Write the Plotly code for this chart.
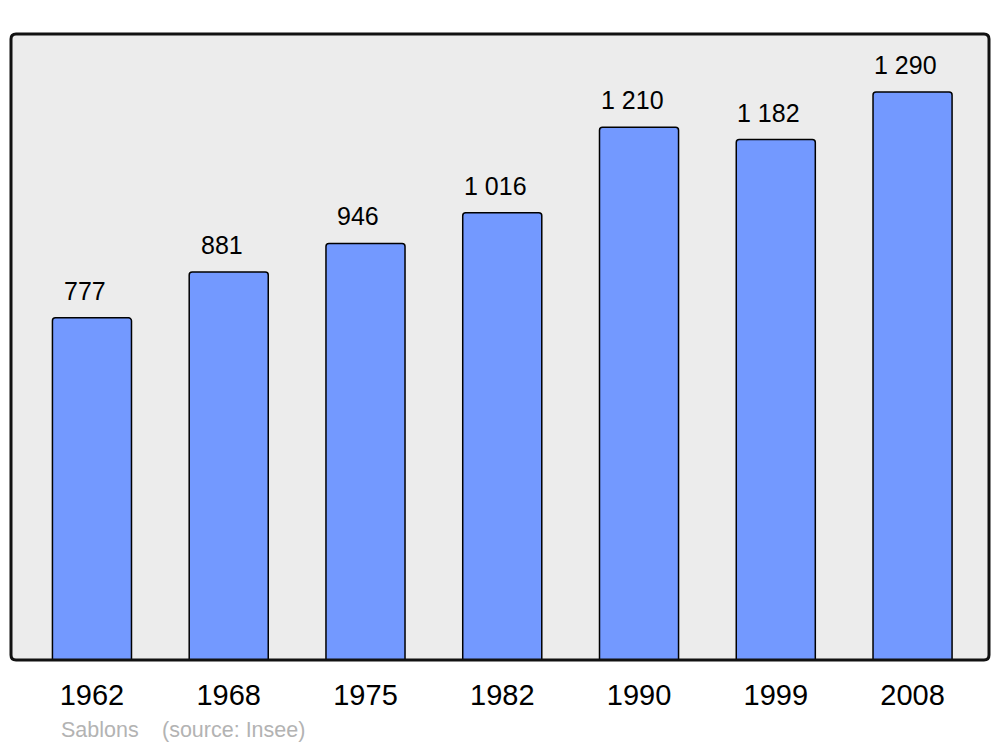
import plotly.graph_objects as go

years = ["1962", "1968", "1975", "1982", "1990", "1999", "2008"]
population = [777, 881, 946, 1016, 1210, 1182, 1290]
value_labels = ["777", "881", "946", "1 016", "1 210", "1 182", "1 290"]
town = "Sablons"
source = "(source: Insee)"

W, H = 1000, 747
ml, mr, mt, mb = 11, 11, 34, 87
pw, ph = W - ml - mr, H - mt - mb

xs = list(range(len(years)))

fig = go.Figure()
fig.add_trace(go.Bar(
    x=xs, y=population, width=0.578,
    marker=dict(color="#7399ff", line=dict(color="#000000", width=1.5), cornerradius=3),
    hoverinfo="skip",
))

for xi, v, lab in zip(xs, population, value_labels):
    fig.add_annotation(x=xi, y=v, text=lab, showarrow=False, xref="x", yref="y",
                       yanchor="middle", xanchor="center", yshift=27, xshift=-7,
                       font=dict(family="Liberation Sans, Arial", size=25, color="#000"))

# rounded frame
r = 5
rx, ry = r / pw, r / ph
path = (f"M {rx},0 L {1-rx},0 Q 1,0 1,{ry} L 1,{1-ry} Q 1,1 {1-rx},1 "
        f"L {rx},1 Q 0,1 0,{1-ry} L 0,{ry} Q 0,0 {rx},0 Z")
fig.add_shape(type="path", path=path, xref="paper", yref="paper",
              fillcolor="#ececec", line=dict(width=0), layer="below")
fig.add_shape(type="path", path=path, xref="paper", yref="paper",
              fillcolor="rgba(0,0,0,0)", line=dict(color="#111111", width=3), layer="above")

fig.add_annotation(x=(59 - ml) / pw, y=-(730 - 660) / ph, xref="paper", yref="paper",
                   text=town, showarrow=False, xanchor="left", yanchor="middle",
                   font=dict(family="Liberation Sans, Arial", size=21.5, color="#b3b3b3"))
fig.add_annotation(x=(160 - ml) / pw, y=-(730 - 660) / ph, xref="paper", yref="paper",
                   text=source, showarrow=False, xanchor="left", yanchor="middle",
                   font=dict(family="Liberation Sans, Arial", size=21.5, color="#b3b3b3"))

fig.update_layout(
    width=W, height=H,
    margin=dict(l=ml, r=mr, t=mt, b=mb),
    paper_bgcolor="white", plot_bgcolor="rgba(0,0,0,0)",
    showlegend=False,
    xaxis=dict(range=[-0.592, 6.559], tickvals=xs, ticktext=years, showgrid=False,
               zeroline=False, showline=False, ticks="", ticklabelstandoff=15,
               tickfont=dict(family="Liberation Sans, Arial", size=29, color="#000")),
    yaxis=dict(range=[0, 1421.7], showgrid=False, zeroline=False, showline=False,
               showticklabels=False, ticks=""),
)

fig.write_html("out.html", config={"displayModeBar": False},
               post_script="document.body.style.margin='0';document.body.style.overflow='hidden';")
